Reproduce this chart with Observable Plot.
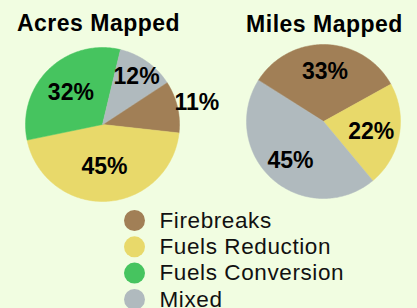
<!DOCTYPE html>
<html><head><meta charset="utf-8">
<script src="https://cdn.jsdelivr.net/npm/d3@7"></script>
<script src="https://cdn.jsdelivr.net/npm/@observablehq/plot@0.6"></script>
<style>html,body{margin:0;padding:0;background:#f1fde1;overflow:hidden}</style>
</head><body><div id="chart"></div>
<script>
// ---- data ----
const categories = ["Firebreaks", "Fuels Reduction", "Fuels Conversion", "Mixed"];
const pieTitles = ["Acres Mapped", "Miles Mapped"];
const acresPct = [11, 45, 32, 12];
const milesPct = [33, 22, 0, 45];
const colors = ["#a17f56", "#e8d96a", "#46c45f", "#b0babe"];

// ---- layout ----
const W = 417, H = 308;
const layout = {
  "Acres Mapped": {cx: 102, cy: 124, r: 77, start: 56.7, titleX: 98, titleY: 23.5,
    labelR: {"Firebreaks": 1.26, "Fuels Reduction": 0.54, "Fuels Conversion": 0.59, "Mixed": 0.77}},
  "Miles Mapped": {cx: 323, cy: 121, r: 77, start: 302.2, titleX: 324, titleY: 24.5,
    labelR: {"Firebreaks": 0.66, "Fuels Reduction": 0.63, "Fuels Conversion": 0.65, "Mixed": 0.65}}
};
const seriesByPie = {"Acres Mapped": acresPct, "Miles Mapped": milesPct};

const rad = Math.PI / 180;
const slicePts = [];
const labels = [];
for (const pie of pieTitles) {
  const L = layout[pie];
  const vals = seriesByPie[pie];
  const arcs = d3.pie().sort(null).value(d => d)
    .startAngle(L.start * rad).endAngle(L.start * rad + 2 * Math.PI)(vals);
  arcs.forEach((a, i) => {
    if (a.value <= 0) return;
    const key = pie + "|" + categories[i];
    slicePts.push({key, cat: categories[i], x: L.cx, y: L.cy});
    const n = Math.max(2, Math.ceil((a.endAngle - a.startAngle) / rad));
    for (let k = 0; k <= n; k++) {
      const t = a.startAngle + (a.endAngle - a.startAngle) * k / n;
      slicePts.push({key, cat: categories[i], x: L.cx + L.r * Math.sin(t), y: L.cy - L.r * Math.cos(t)});
    }
    const m = (a.startAngle + a.endAngle) / 2;
    const lr = L.r * L.labelR[categories[i]];
    labels.push({text: a.value + "%", x: L.cx + lr * Math.sin(m), y: L.cy - lr * Math.cos(m) + 1});
  });
}
const titles = pieTitles.map(t => ({text: t, x: layout[t].titleX, y: layout[t].titleY}));
const legendRows = categories.map((c, i) => ({cat: c, y: 220 + i * 26.3}));

const font = "'Liberation Sans', Arial, Helvetica, sans-serif";
const chart = Plot.plot({
  width: W, height: H,
  margin: 0,
  x: {domain: [0, W], range: [0, W], axis: null},
  y: {domain: [0, H], range: [0, H], axis: null},
  color: {domain: categories, range: colors},
  style: {background: "#f1fde1", fontFamily: font, overflow: "visible"},
  marks: [
    Plot.line(slicePts, {x: "x", y: "y", z: "key", fill: "cat", stroke: "cat", strokeWidth: 0.5, curve: "linear-closed"}),
    Plot.text(labels, {x: "x", y: "y", text: "text", fontSize: 23, fontWeight: "bold", fill: "#000"}),
    Plot.text(titles, {x: "x", y: "y", text: "text", fontSize: 23, fontWeight: "bold", fill: "#000", style: "letter-spacing:0.5px"}),
    Plot.dot(legendRows, {x: () => 134, y: "y", r: 10.5, fill: "cat", stroke: null}),
    Plot.text(legendRows, {x: () => 159, y: "y", text: "cat", textAnchor: "start", fontSize: 22.5, fill: "#111"})
  ]
});
chart.querySelectorAll("text").forEach(t => {
  const txt = t.textContent;
  if (pieTitles.includes(txt)) t.setAttribute("letter-spacing", "0.5");
  if (categories.includes(txt)) t.setAttribute("letter-spacing", "0.6");
});
document.getElementById("chart").appendChild(chart);
</script>
</body></html>
